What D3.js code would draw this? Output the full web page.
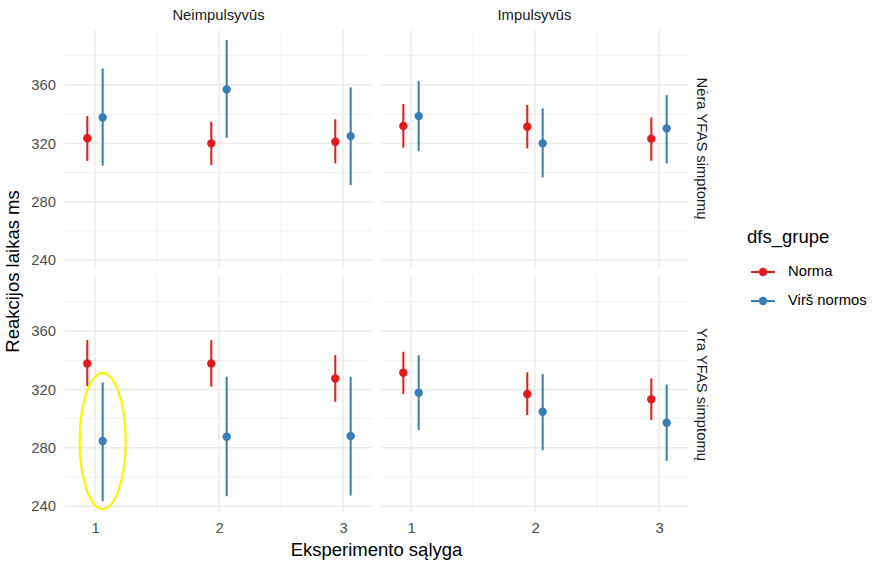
<!DOCTYPE html>
<html>
<head>
<meta charset="utf-8">
<script src="https://cdn.jsdelivr.net/npm/d3@7"></script>
<style>
  body { margin: 0; background: #fff; }
  svg { font-family: "Liberation Sans", Arial, sans-serif; }
</style>
</head>
<body>
<div id="chart"></div>
<script>
// facets
const colFacets = ["Neimpulsyvūs", "Impulsyvūs"];
const rowFacets = ["Nėra YFAS simptomų", "Yra YFAS simptomų"];
const conditions = [1, 2, 3];
const groups = ["Norma", "Virš normos"];
const yTicks = [240, 280, 320, 360];

// panel order: [row][col] -> values for conditions 1..3
const normaMean = [[[323.5, 320.0, 321.1], [331.9, 331.4, 323.2]], [[337.8, 337.8, 327.5], [331.4, 316.8, 313.2]]];
const normaLow  = [[[308.0, 305.1, 306.3], [317.0, 316.6, 308.1]], [[322.3, 321.8, 311.5], [316.8, 302.4, 299.0]]];
const normaHigh = [[[338.7, 334.8, 336.5], [347.0, 346.3, 337.8]], [[353.8, 353.8, 343.5], [345.8, 331.7, 327.6]]];
const virsMean  = [[[337.8, 357.0, 325.0], [338.7, 320.0, 330.3]], [[284.6, 287.5, 288.0], [317.7, 304.7, 297.1]]];
const virsLow   = [[[304.7, 323.9, 291.4], [314.7, 296.7, 306.3]], [[243.4, 246.8, 247.3], [292.1, 278.4, 271.0]]];
const virsHigh  = [[[371.4, 390.9, 358.4], [362.7, 344.0, 353.1]], [[324.8, 328.7, 328.7], [343.5, 330.5, 323.4]]];

const colors = { "Norma": "#E41A1C", "Virš normos": "#377EB8" };

const width = 872, height = 563;
const panelW = 307, panelH = 237;
const panelX = [65, 381];
const panelY = [30, 276];
const dodge = 0.062;

const svg = d3.select('#chart').append('svg')
  .attr('width', width)
  .attr('height', height);

const x = d3.scaleLinear().domain([0.758, 3.234]).range([0, panelW]);
const y = d3.scaleLinear().domain([235.3, 397.7]).range([panelH, 0]);

const series = [
  { name: "Norma", mean: normaMean, low: normaLow, high: normaHigh, off: -dodge },
  { name: "Virš normos", mean: virsMean, low: virsLow, high: virsHigh, off: dodge }
];

rowFacets.forEach((rowName, r) => {
  colFacets.forEach((colName, c) => {
    const g = svg.append('g')
      .attr('transform', `translate(${panelX[c]},${panelY[r]})`);

    // minor grid
    g.selectAll('.hminor')
      .data([260, 300, 340, 380])
      .enter().append('line')
      .attr('x1', 0).attr('x2', panelW)
      .attr('y1', d => y(d)).attr('y2', d => y(d))
      .attr('stroke', '#EBEBEB').attr('stroke-width', 0.8);
    g.selectAll('.vminor')
      .data([1.5, 2.5])
      .enter().append('line')
      .attr('y1', 0).attr('y2', panelH)
      .attr('x1', d => x(d)).attr('x2', d => x(d))
      .attr('stroke', '#EBEBEB').attr('stroke-width', 0.8);

    // major grid
    g.selectAll('.hmajor')
      .data(yTicks)
      .enter().append('line')
      .attr('x1', 0).attr('x2', panelW)
      .attr('y1', d => y(d)).attr('y2', d => y(d))
      .attr('stroke', '#EBEBEB').attr('stroke-width', 1.5);
    g.selectAll('.vmajor')
      .data(conditions)
      .enter().append('line')
      .attr('y1', 0).attr('y2', panelH)
      .attr('x1', d => x(d)).attr('x2', d => x(d))
      .attr('stroke', '#EBEBEB').attr('stroke-width', 1.5);

    // error bars and points
    series.forEach(s => {
      const pts = conditions.map((cond, i) => ({
        cx: cond + s.off,
        m: s.mean[r][c][i], lo: s.low[r][c][i], hi: s.high[r][c][i]
      }));
      g.selectAll(null)
        .data(pts)
        .enter().append('line')
        .attr('x1', d => x(d.cx)).attr('x2', d => x(d.cx))
        .attr('y1', d => y(d.lo)).attr('y2', d => y(d.hi))
        .attr('stroke', colors[s.name]).attr('stroke-width', 2);
      g.selectAll(null)
        .data(pts)
        .enter().append('circle')
        .attr('cx', d => x(d.cx)).attr('cy', d => y(d.m))
        .attr('r', 4.2)
        .attr('fill', colors[s.name]);
    });

    // highlight ellipse
    if (r === 1 && c === 0) {
      g.append('ellipse')
        .attr('cx', x(1 + dodge))
        .attr('cy', y(virsMean[1][0][0]))
        .attr('rx', 23).attr('ry', 68)
        .attr('fill', 'none')
        .attr('stroke', '#FFF200')
        .attr('stroke-width', 2.2);
    }

    // y axis labels
    if (c === 0) {
      const ya = g.append('g')
        .call(d3.axisLeft(y).tickValues(yTicks).tickSize(0).tickPadding(9));
      ya.select('.domain').remove();
      ya.selectAll('text')
        .attr('fill', '#4D4D4D')
        .style('font-size', '14.8px')
        .style('font-family', '"Liberation Sans", Arial, sans-serif');
    }

    // x axis labels
    if (r === 1) {
      const xa = g.append('g')
        .attr('transform', `translate(0,${panelH})`)
        .call(d3.axisBottom(x).tickValues(conditions).tickFormat(d3.format('d')).tickSize(0).tickPadding(9));
      xa.select('.domain').remove();
      xa.selectAll('text')
        .attr('fill', '#4D4D4D')
        .style('font-size', '14.8px')
        .style('font-family', '"Liberation Sans", Arial, sans-serif');
    }

    // strip labels
    if (r === 0) {
      svg.append('text')
        .attr('x', panelX[c] + panelW / 2)
        .attr('y', 16)
        .attr('text-anchor', 'middle')
        .attr('dominant-baseline', 'middle')
        .attr('fill', '#1A1A1A')
        .style('font-size', '14.8px')
        .text(colName);
    }
    if (c === 1) {
      const cy = panelY[r] + panelH / 2;
      svg.append('text')
        .attr('transform', `translate(701,${cy}) rotate(90)`)
        .attr('text-anchor', 'middle')
        .attr('dominant-baseline', 'middle')
        .attr('fill', '#1A1A1A')
        .style('font-size', '14.8px')
        .text(rowName);
    }
  });
});

// axis titles
svg.append('text')
  .attr('x', (panelX[0] + panelX[1] + panelW) / 2)
  .attr('y', 551)
  .attr('text-anchor', 'middle')
  .attr('dominant-baseline', 'middle')
  .attr('fill', '#000')
  .style('font-size', '18.5px')
  .text('Eksperimento sąlyga');

svg.append('text')
  .attr('transform', `translate(14,${(panelY[0] + panelY[1] + panelH) / 2}) rotate(-90)`)
  .attr('text-anchor', 'middle')
  .attr('dominant-baseline', 'middle')
  .attr('fill', '#000')
  .style('font-size', '18.5px')
  .text('Reakcijos laikas ms');

// legend
const legend = svg.append('g').attr('transform', 'translate(747,0)');
legend.append('text')
  .attr('x', 0).attr('y', 238)
  .attr('dominant-baseline', 'middle')
  .attr('fill', '#000')
  .style('font-size', '18.5px')
  .text('dfs_grupe');

const keyY = [272, 301];
groups.forEach((name, i) => {
  legend.append('line')
    .attr('x1', 4).attr('x2', 28)
    .attr('y1', keyY[i]).attr('y2', keyY[i])
    .attr('stroke', colors[name]).attr('stroke-width', 2);
  legend.append('circle')
    .attr('cx', 16).attr('cy', keyY[i]).attr('r', 4.2)
    .attr('fill', colors[name]);
  legend.append('text')
    .attr('x', 41).attr('y', keyY[i])
    .attr('dominant-baseline', 'middle')
    .attr('fill', '#000')
    .style('font-size', '14.8px')
    .text(name);
});
</script>
</body>
</html>
